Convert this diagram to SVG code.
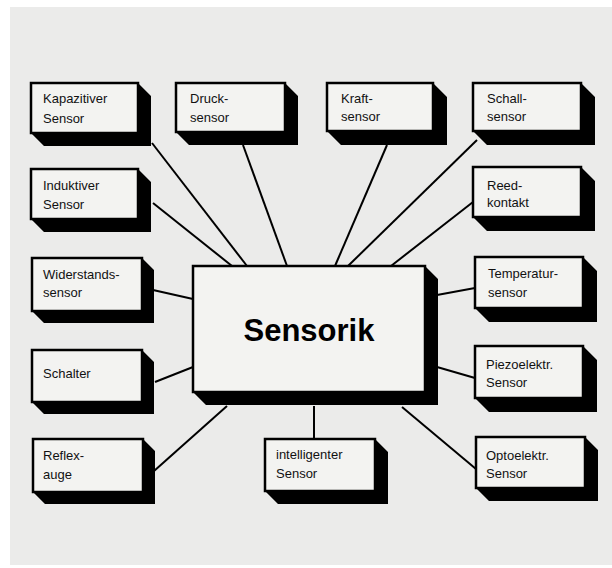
<svg xmlns="http://www.w3.org/2000/svg" width="612" height="568" viewBox="0 0 612 568">
<style>
.face{fill:#f3f3f1;stroke:#000;stroke-width:2.5}
.ext{fill:#000}
.lbl{font-family:"Liberation Sans",Arial,sans-serif;font-size:13px;fill:#111}
.title{font-family:"Liberation Sans",Arial,sans-serif;font-size:31px;font-weight:bold;fill:#000}
.con line{stroke:#000;stroke-width:2}
</style>
<rect x="0" y="0" width="612" height="568" fill="#fff"/>
<rect x="10" y="7" width="602" height="558" fill="#ebebea"/>
<g class="con" id="connectors">
<line x1="152" y1="143" x2="247" y2="266"/>
<line x1="243" y1="145" x2="287" y2="266"/>
<line x1="387" y1="145" x2="335" y2="266"/>
<line x1="477" y1="140" x2="348" y2="266"/>
<line x1="153" y1="203" x2="232" y2="266"/>
<line x1="473" y1="202" x2="391" y2="266"/>
<line x1="153" y1="290" x2="193" y2="299"/>
<line x1="155" y1="382" x2="193" y2="367"/>
<line x1="437" y1="295" x2="475" y2="288"/>
<line x1="437" y1="367" x2="475" y2="378"/>
<line x1="154" y1="471" x2="227" y2="406"/>
<line x1="314" y1="406" x2="314" y2="439"/>
<line x1="402" y1="407" x2="476" y2="469"/>
</g>
<g id="sensorik">
<polygon class="ext" points="425,266 438,279 438,405 206,405 193,392 425,392"/>
<rect class="face" x="193" y="266" width="232" height="126"/>
<text class="title" x="309" y="341" text-anchor="middle">Sensorik</text>
</g>
<g id="kapazitiver">
<polygon class="ext" points="138,83 151,96 151,146 44,146 31,133 138,133"/>
<rect class="face" x="31" y="83" width="107" height="50"/>
<text class="lbl" x="43" y="103">Kapazitiver</text>
<text class="lbl" x="43" y="123">Sensor</text>
</g>
<g id="druck">
<polygon class="ext" points="285,83 298,96 298,145 189,145 176,132 285,132"/>
<rect class="face" x="176" y="83" width="109" height="49"/>
<text class="lbl" x="190" y="103">Druck-</text>
<text class="lbl" x="190" y="122">sensor</text>
</g>
<g id="kraft">
<polygon class="ext" points="433,83 447,97 447,145 341,145 327,131 433,131"/>
<rect class="face" x="327" y="83" width="106" height="48"/>
<text class="lbl" x="341" y="103">Kraft-</text>
<text class="lbl" x="341" y="121">sensor</text>
</g>
<g id="schall">
<polygon class="ext" points="581,83 595,97 595,145 487,145 473,131 581,131"/>
<rect class="face" x="473" y="83" width="108" height="48"/>
<text class="lbl" x="487" y="103">Schall-</text>
<text class="lbl" x="487" y="121">sensor</text>
</g>
<g id="induktiver">
<polygon class="ext" points="138,169 151,182 151,232 44,232 31,219 138,219"/>
<rect class="face" x="31" y="169" width="107" height="50"/>
<text class="lbl" x="43" y="190">Induktiver</text>
<text class="lbl" x="43" y="209">Sensor</text>
</g>
<g id="reed">
<polygon class="ext" points="581,167 595,181 595,231 487,231 473,217 581,217"/>
<rect class="face" x="473" y="167" width="108" height="50"/>
<text class="lbl" x="487" y="190">Reed-</text>
<text class="lbl" x="487" y="207">kontakt</text>
</g>
<g id="widerstands">
<polygon class="ext" points="142,258 154,270 154,323 44,323 32,311 142,311"/>
<rect class="face" x="32" y="258" width="110" height="53"/>
<text class="lbl" x="43" y="279">Widerstands-</text>
<text class="lbl" x="43" y="297">sensor</text>
</g>
<g id="schalter">
<polygon class="ext" points="142,350 154,362 154,414 44,414 32,402 142,402"/>
<rect class="face" x="32" y="350" width="110" height="52"/>
<text class="lbl" x="43" y="378">Schalter</text>
</g>
<g id="temperatur">
<polygon class="ext" points="583,257 597,271 597,322 489,322 475,308 583,308"/>
<rect class="face" x="475" y="257" width="108" height="51"/>
<text class="lbl" x="488" y="278">Temperatur-</text>
<text class="lbl" x="488" y="297">sensor</text>
</g>
<g id="piezo">
<polygon class="ext" points="583,346 597,360 597,412 489,412 475,398 583,398"/>
<rect class="face" x="475" y="346" width="108" height="52"/>
<text class="lbl" x="486" y="369">Piezoelektr.</text>
<text class="lbl" x="486" y="387">Sensor</text>
</g>
<g id="reflex">
<polygon class="ext" points="143,439 155,451 155,504 45,504 33,492 143,492"/>
<rect class="face" x="33" y="439" width="110" height="53"/>
<text class="lbl" x="43" y="460">Reflex-</text>
<text class="lbl" x="43" y="479">auge</text>
</g>
<g id="intelligenter">
<polygon class="ext" points="375,439 388,452 388,504 278,504 265,491 375,491"/>
<rect class="face" x="265" y="439" width="110" height="52"/>
<text class="lbl" x="276" y="459">intelligenter</text>
<text class="lbl" x="276" y="478">Sensor</text>
</g>
<g id="optoelektr">
<polygon class="ext" points="585,437 598,450 598,501 489,501 476,488 585,488"/>
<rect class="face" x="476" y="437" width="109" height="51"/>
<text class="lbl" x="486" y="460">Optoelektr.</text>
<text class="lbl" x="486" y="478">Sensor</text>
</g>
</svg>
